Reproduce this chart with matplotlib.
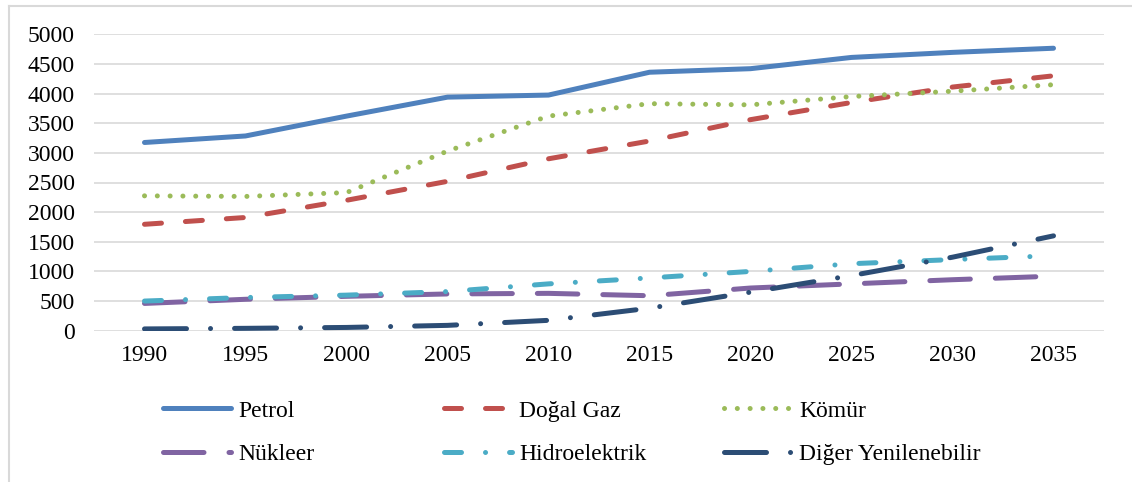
import numpy as np
import matplotlib
matplotlib.use("Agg")
import matplotlib.pyplot as plt
from matplotlib.lines import Line2D

# Energy demand by source (Mtoe)
years = ["1990", "1995", "2000", "2005", "2010", "2015", "2020", "2025", "2030", "2035"]
petrol = [3175, 3285, 3620, 3940, 3975, 4360, 4420, 4610, 4695, 4765]
dogal_gaz = [1795, 1910, 2200, 2520, 2900, 3200, 3560, 3850, 4110, 4300]
komur = [2275, 2265, 2330, 3030, 3620, 3830, 3810, 3950, 4040, 4150]
nukleer = [460, 530, 580, 620, 630, 590, 720, 790, 860, 920]
hidroelektrik = [500, 560, 600, 660, 790, 890, 1000, 1130, 1200, 1265]
diger = [30, 40, 55, 90, 175, 380, 650, 930, 1240, 1600]

labels = ["Petrol", "Doğal Gaz", "Kömür", "Nükleer", "Hidroelektrik", "Diğer Yenilenebilir"]
colors = ["#4F81BD", "#C0504D", "#9BBB59", "#8064A2", "#4BACC6", "#2C4D75"]
# dash patterns in multiples of the line width
dashes = [None, (3.4, 4.8), (0.01, 2.55), (8.1, 5.0), (3.4, 4.8, 0.01, 4.8), (8.4, 4.8, 0.01, 4.8)]

plt.rcParams["font.family"] = ["Liberation Serif", "DejaVu Serif"]
FS = 17

W, H = 1132, 482
fig = plt.figure(figsize=(W / 100, H / 100), dpi=100)
ax = fig.add_axes([94 / W, 1 - 330.7 / H, (1104 - 94) / W, (330.7 - 34.3) / H])

x = np.arange(len(years))
series = [petrol, dogal_gaz, komur, nukleer, hidroelektrik, diger]
lw = 3.6
handles = []
for vals, lab, col, d in zip(series, labels, colors, dashes):
    kw = dict(color=col, lw=lw, solid_capstyle="round", dash_capstyle="round", label=lab)
    if d is None:
        line, = ax.plot(x, vals, ls="-", **kw)
    else:
        line, = ax.plot(x, vals, ls=(0, d), **kw)
    handles.append(line)

ax.set_xlim(-0.5, len(years) - 0.5)
ax.set_ylim(0, 5000)
ax.set_yticks(np.arange(0, 5001, 500))
ax.set_xticks(x)
ax.set_xticklabels(years)
ax.yaxis.grid(True, color="#D9D9D9", lw=1.2)
ax.set_axisbelow(True)
for s in ax.spines.values():
    s.set_visible(False)
ax.tick_params(axis="both", length=0, labelsize=FS, colors="black")
ax.tick_params(axis="y", pad=14)
ax.tick_params(axis="x", pad=10)

# legend: three columns of two entries
col_x = [163, 444, 724]
top_y = 400
for c in range(3):
    hs = [handles[c], handles[c + 3]]
    leg = fig.legend(hs, [h.get_label() for h in hs], loc="upper left",
                     bbox_to_anchor=(col_x[c] / W, 1 - top_y / H),
                     frameon=False, fontsize=FS, borderpad=0, borderaxespad=0,
                     handlelength=2.88, handletextpad=0.3, labelspacing=0.92)

# chart frame (left and top edges)
fig.add_artist(Line2D([8.5 / W, 8.5 / W], [0, 1 - 6 / H], transform=fig.transFigure,
                      color="#D9D9D9", lw=1.5))
fig.add_artist(Line2D([8.5 / W, 1], [1 - 6 / H, 1 - 6 / H], transform=fig.transFigure,
                      color="#D9D9D9", lw=1.5))

fig.savefig("out.png", dpi=100)
